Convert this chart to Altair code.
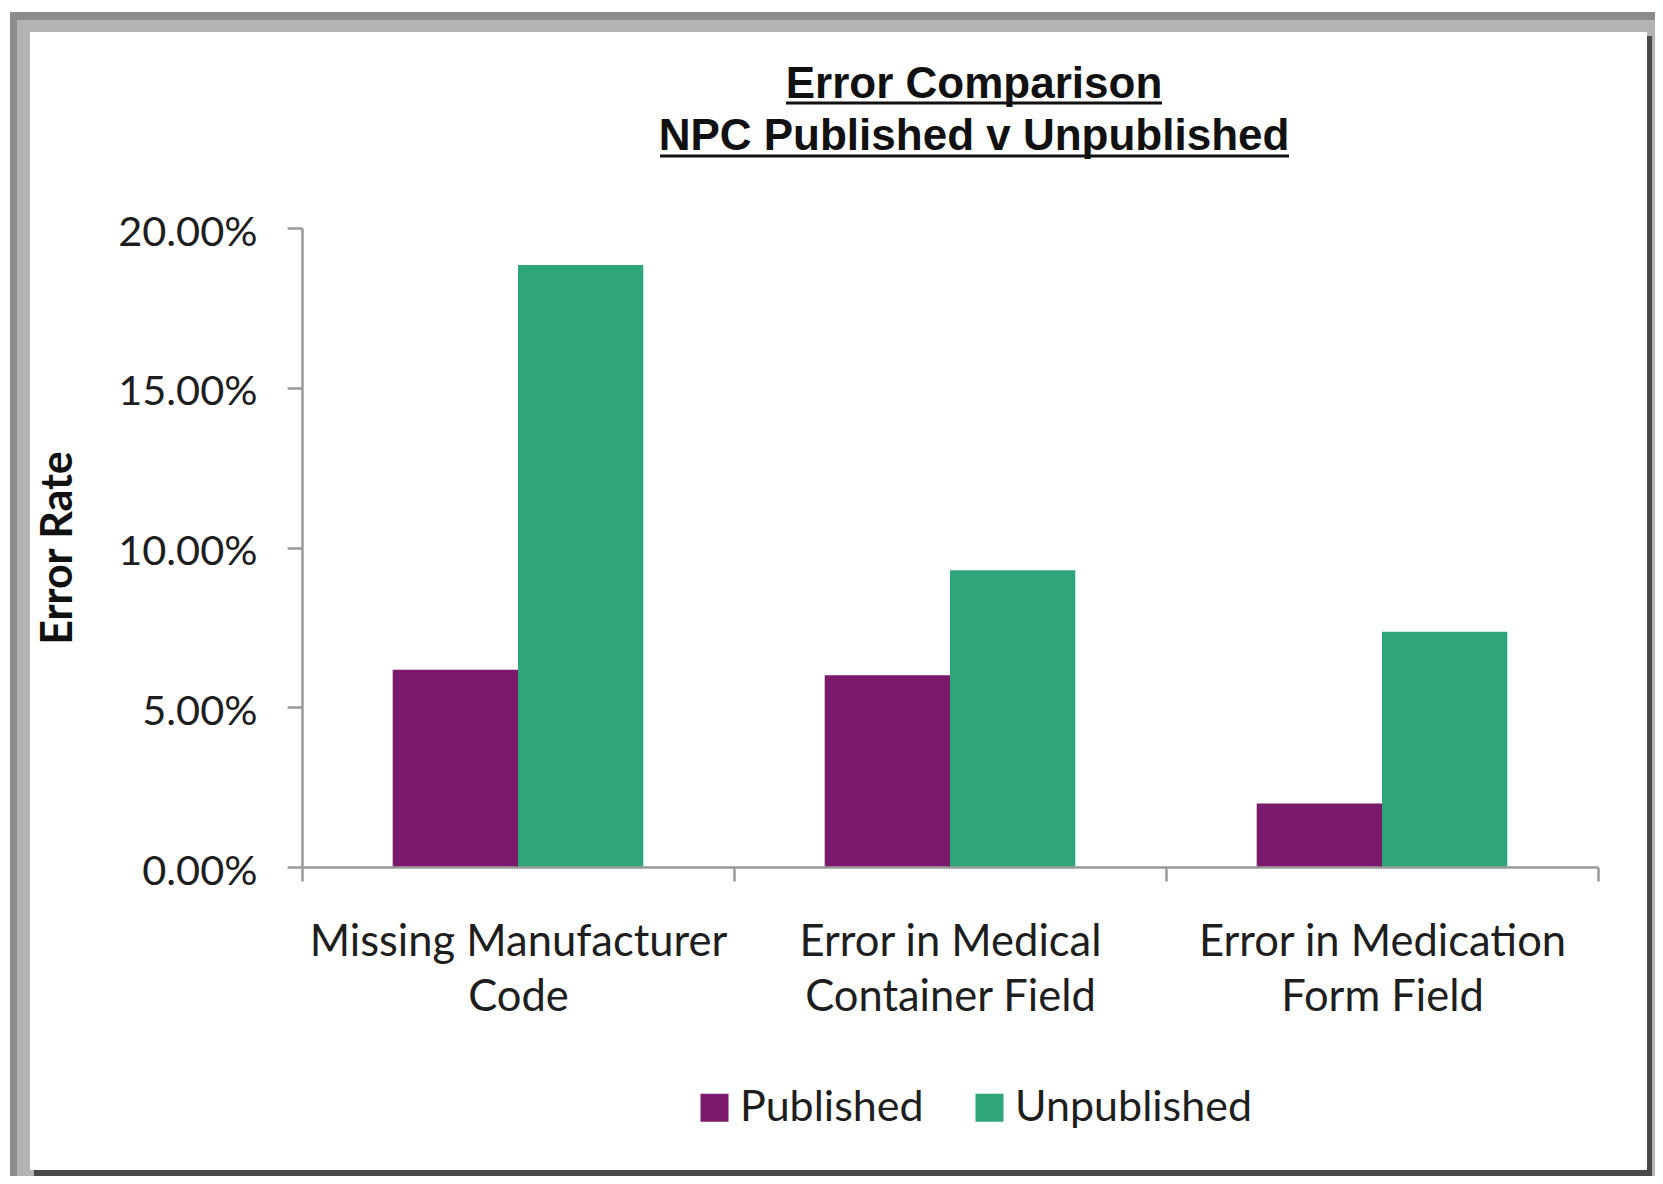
import altair as alt
import pandas as pd

# ---- data ----
categories = [
    "Missing Manufacturer Code",
    "Error in Medical Container Field",
    "Error in Medication Form Field",
]
label_lines = [
    ["Missing Manufacturer", "Code"],
    ["Error in Medical", "Container Field"],
    ["Error in Medication", "Form Field"],
]
series = ["Published", "Unpublished"]
published = [0.0617, 0.0600, 0.0199]
unpublished = [0.1884, 0.0929, 0.0736]
colors = ["#7B1A6B", "#2EA67A"]
title_lines = ["Error Comparison", "NPC Published v Unpublished"]
y_title = "Error Rate"
y_ticks = [0.0, 0.05, 0.10, 0.15, 0.20]

rows = []
for i, c in enumerate(categories):
    rows.append({"category": c, "series": series[0], "value": published[i]})
    rows.append({"category": c, "series": series[1], "value": unpublished[i]})
df = pd.DataFrame(rows)

W, H = 1296, 639
AX = "#9a9a9a"

# multi-line x labels
expr = "datum.label"
for c, lines in reversed(list(zip(categories, label_lines))):
    arr = "[" + ",".join("'" + s + "'" for s in lines) + "]"
    expr = f"datum.value == '{c}' ? {arr} : ({expr})"

one = alt.Data(values=[{"k": 1}])

def box(x1, x2, y1, y2, color):
    return alt.Chart(one).mark_rect(color=color).encode(
        x=alt.value(x1), x2=alt.value(x2), y=alt.value(y1), y2=alt.value(y2)
    )

frame_outer = box(-292, 1400, -216, 1000, "#8c8c8c")
frame_inner = box(-285, 1400, -208, 1000, "#b3b3b3")
shadow = box(-268, 1350, -192, 952, "#4a4a4a")
panel = box(-272, 1345, -196, 942, "white")

bars = alt.Chart(df).mark_bar().encode(
    x=alt.X(
        "category:N",
        sort=categories,
        scale=alt.Scale(paddingInner=0, paddingOuter=0),
        axis=alt.Axis(
            title=None,
            labelExpr=expr,
            labelAngle=0,
            labelFont="Lato",
            labelFontSize=43.5,
            labelColor="#1e1e1e",
            labelLineHeight=55,
            labelPadding=40,
            labelLimit=1000,
            labelBaseline="top",
            tickBand="extent",
            tickSize=14,
            tickColor=AX,
            tickWidth=2.5,
            domainColor=AX,
            domainWidth=2.5,
            grid=False,
            zindex=2,
        ),
    ),
    xOffset=alt.XOffset(
        "series:N", sort=series,
        scale=alt.Scale(paddingInner=0, paddingOuter=0.724),
    ),
    y=alt.Y(
        "value:Q",
        scale=alt.Scale(domain=[0, 0.2], nice=False),
        axis=alt.Axis(
            values=y_ticks,
            format=".2%",
            title=y_title,
            titleFont="Lato",
            titleFontSize=43,
            titleFontWeight="bold",
            titleColor="#111111",
            titleX=-244,
            titleY=H / 2,
            titleAngle=-90,
            titleAlign="center",
            titleBaseline="middle",
            labelFont="Lato",
            labelFontSize=41.5,
            labelColor="#1e1e1e",
            labelPadding=30,
            labelOffset=5,
            labelLimit=1000,
            tickSize=15,
            tickColor=AX,
            tickWidth=2.5,
            domainColor=AX,
            domainWidth=2.5,
            grid=False,
            zindex=2,
        ),
    ),
    color=alt.Color(
        "series:N",
        scale=alt.Scale(domain=series, range=colors),
        legend=alt.Legend(
            title=None,
            orient="none",
            legendX=391,
            legendY=858,
            direction="horizontal",
            symbolType="square",
            symbolSize=784,
            symbolStrokeWidth=0,
            labelFont="Lato",
            labelFontSize=43,
            labelColor="#1e1e1e",
            labelOffset=4,
            labelLimit=1000,
            columnPadding=44,
            zindex=2,
        ),
    ),
)

def title_text(txt, y):
    return alt.Chart(one).mark_text(
        font="Liberation Sans", fontSize=44, fontWeight="bold", color="#111111",
        align="center", baseline="alphabetic",
    ).encode(x=alt.value(672), y=alt.value(y), text=alt.value(txt))

def underline(x1, x2, y):
    return alt.Chart(one).mark_rule(color="#111111", strokeWidth=3).encode(
        x=alt.value(x1), x2=alt.value(x2), y=alt.value(y)
    )

t1 = title_text(title_lines[0], -130)
t2 = title_text(title_lines[1], -78)
u1 = underline(484, 860, -125)
u2 = underline(358, 987, -72)

chart = alt.layer(
    frame_outer, frame_inner, shadow, panel, bars, t1, t2, u1, u2
).properties(
    width=W,
    height=H,
    autosize=alt.AutoSizeParams(type="none"),
    padding={"left": 294, "top": 220, "right": 57, "bottom": 309},
    background="white",
).configure_view(stroke=None)

chart.save("out.html", embed_options={"renderer": "svg", "actions": False})
